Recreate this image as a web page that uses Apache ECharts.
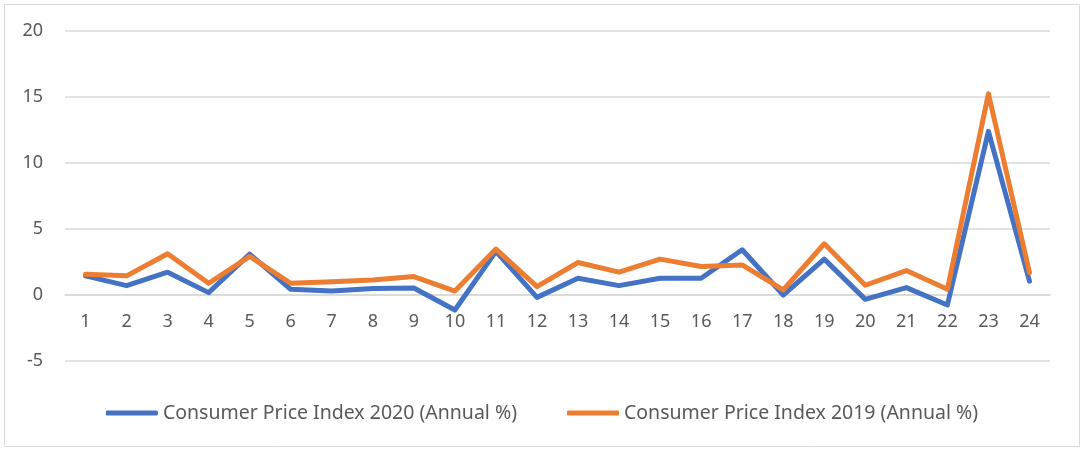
<!DOCTYPE html>
<html>
<head>
<meta charset="utf-8">
<script src="https://cdn.jsdelivr.net/npm/echarts@6/dist/echarts.min.js"></script>
<style>
  html, body { margin: 0; padding: 0; background: #fff; }
  #main { width: 1084px; height: 451px; }
</style>
</head>
<body>
<div id="main"></div>
<script>
// categories 1..24
var categories = ['1','2','3','4','5','6','7','8','9','10','11','12',
                  '13','14','15','16','17','18','19','20','21','22','23','24'];
// Consumer Price Index 2020 (Annual %)
var cpi2020 = [1.45, 0.71, 1.73, 0.18, 3.1, 0.43, 0.3, 0.5, 0.53, -1.14, 3.3, -0.18,
               1.27, 0.71, 1.27, 1.27, 3.43, 0.0, 2.72, -0.33, 0.56, -0.76, 12.4, 1.05];
// Consumer Price Index 2019 (Annual %)
var cpi2019 = [1.57, 1.45, 3.12, 0.89, 2.92, 0.89, 1.0, 1.14, 1.4, 0.3, 3.48, 0.63,
               2.46, 1.73, 2.72, 2.16, 2.28, 0.38, 3.88, 0.74, 1.85, 0.43, 15.25, 1.7];
var seriesNames = ['Consumer Price Index 2020 (Annual %)', 'Consumer Price Index 2019 (Annual %)'];
var yMin = -5, yMax = 20, yStep = 5;

var chart = echarts.init(document.getElementById('main'), null, { renderer: 'canvas' });
var textColor = '#595959';
var fontFamily = 'Noto Sans';

// grid geometry, used to put the category axis on the zero line
var gridTop = 31, gridBottom = 90;
var plotH = 451 - gridTop - gridBottom;
var zeroShift = -plotH * (0 - yMin) / (yMax - yMin);

var option = {
  backgroundColor: '#fff',
  animation: false,
  textStyle: { fontFamily: fontFamily },
  graphic: [{
    type: 'rect',
    shape: { x: 4.5, y: 4.5, width: 1075, height: 442 },
    style: { fill: 'none', stroke: '#d9d9d9', lineWidth: 1 }
  }],
  grid: {
    left: 65,
    right: 34,
    top: gridTop,
    bottom: gridBottom
  },
  legend: {
    top: 398,
    left: 'center',
    icon: 'roundRect',
    itemWidth: 52,
    itemHeight: 5,
    itemGap: 50,
    textStyle: { color: textColor, fontSize: 19.5, fontFamily: fontFamily },
    data: seriesNames
  },
  xAxis: {
    type: 'category',
    data: categories,
    boundaryGap: true,
    position: 'bottom',
    offset: zeroShift,
    axisLine: { show: true, onZero: false, lineStyle: { color: '#d9d9d9', width: 1.5 } },
    axisTick: { show: false },
    axisLabel: { color: textColor, fontSize: 18, margin: 18 }
  },
  yAxis: {
    type: 'value',
    min: yMin,
    max: yMax,
    interval: yStep,
    axisLine: { show: false },
    axisTick: { show: false },
    axisLabel: { color: textColor, fontSize: 18, margin: 22 },
    splitLine: { lineStyle: { color: '#d9d9d9', width: 1.5 } }
  },
  series: [{
    name: seriesNames[0],
    type: 'line',
    data: cpi2020,
    symbol: 'none',
    color: '#4472C4',
    lineStyle: { width: 5, color: '#4472C4', join: 'round', cap: 'round' }
  }, {
    name: seriesNames[1],
    type: 'line',
    data: cpi2019,
    symbol: 'none',
    color: '#ED7D31',
    lineStyle: { width: 5, color: '#ED7D31', join: 'round', cap: 'round' }
  }]
};
chart.setOption(option);
</script>
</body>
</html>
